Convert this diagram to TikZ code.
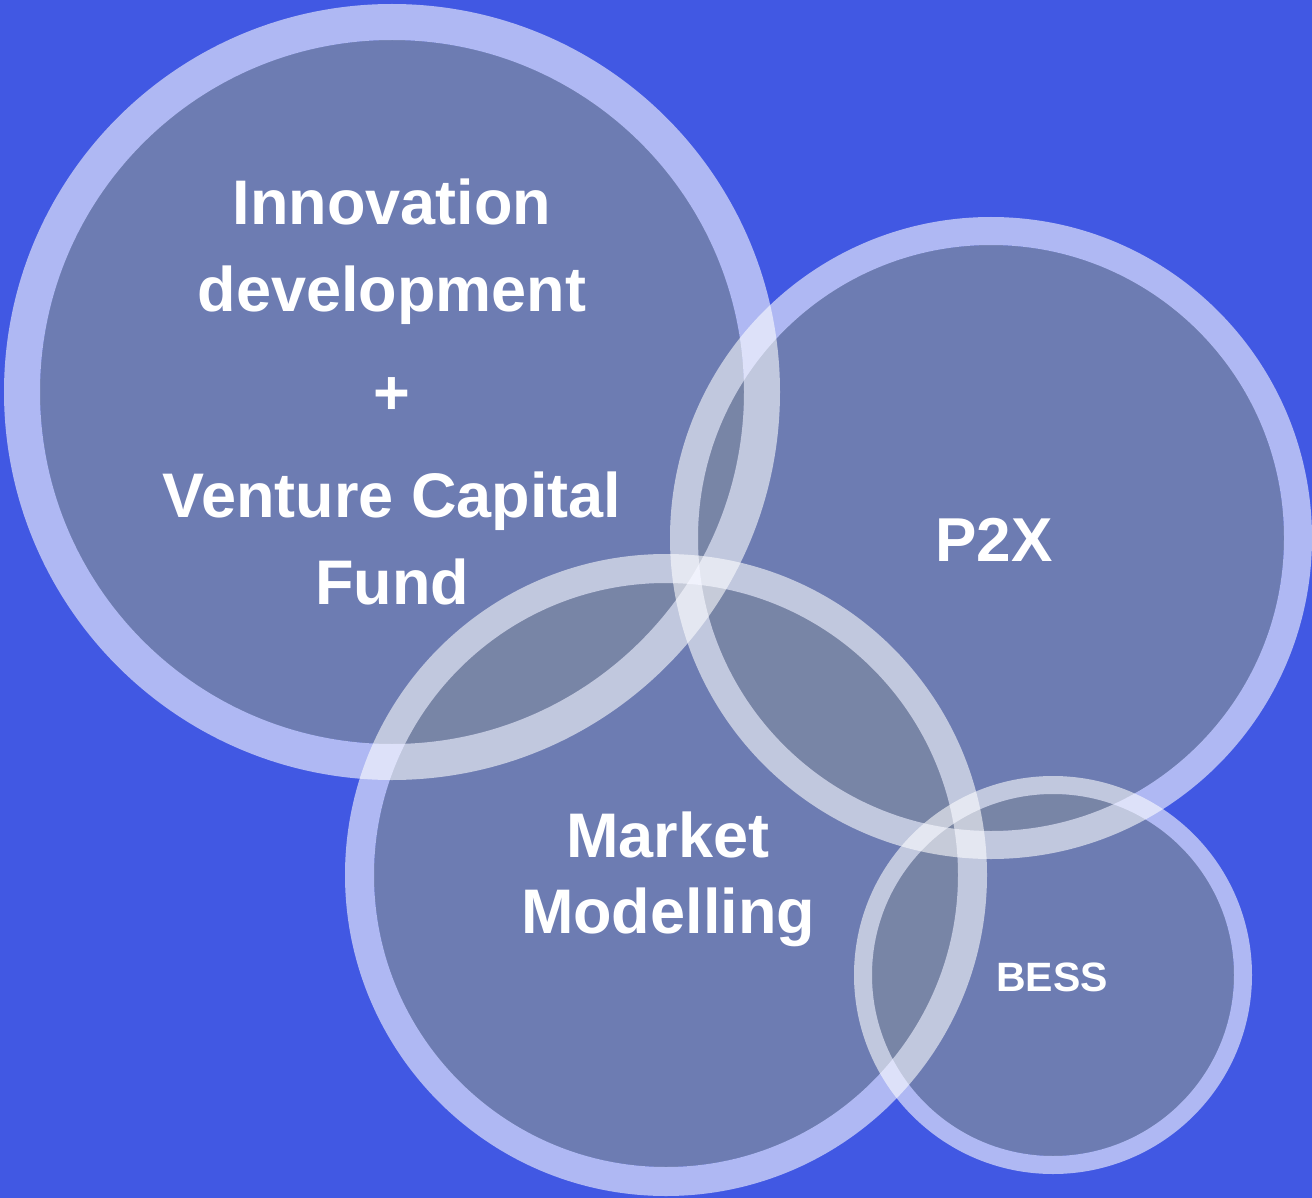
\documentclass[tikz,border=0pt]{standalone}
\usepackage{fontspec}
\setmainfont{Liberation Sans}
\definecolor{bgblue}{RGB}{65,88,227}
\definecolor{discgrey}{RGB}{125,137,162}
\tikzset{
  discfill/.style={circle, inner sep=0pt, fill=discgrey, fill opacity=0.75},
  ringline/.style={circle, inner sep=0pt, draw=white, draw opacity=0.58},
  circtext/.style={inner sep=0pt, align=center, text=white, font=\bfseries}
}

\begin{document}
\begin{tikzpicture}[x=1pt, y=-1pt]
    \useasboundingbox (0,0) rectangle (1312,1198);
    % 背景
    \fill[bgblue] (0,0) rectangle (1312,1198);

    % 円の中身
    \node[discfill, minimum size=704pt] (innovdisc) at (392, 392) {};
    \node[discfill, minimum size=586pt] (ptxdisc) at (991, 538) {};
    \node[discfill, minimum size=584pt] (marketdisc) at (666, 875) {};
    \node[discfill, minimum size=362pt] (bessdisc) at (1053, 975) {};

    % 円の縁
    \node[ringline, line width=36pt, minimum size=740pt] (innov) at (392, 392) {};
    \node[ringline, line width=28pt, minimum size=614pt] (ptx) at (991, 538) {};
    \node[ringline, line width=29pt, minimum size=613pt] (market) at (666, 875) {};
    \node[ringline, line width=18pt, minimum size=380pt] (bess) at (1053, 975) {};

    % テキスト
    \node[circtext, font=\bfseries\fontsize{63}{87}\selectfont] (innovtext) at (392, 392)
      {Innovation\\development\\[16pt]+\\[16pt]Venture Capital\\Fund};
    \node[circtext, font=\bfseries\fontsize{62}{76}\selectfont] (ptxtext) at (994, 540) {P2X};
    \node[circtext, font=\bfseries\fontsize{63}{76}\selectfont] (markettext) at (668, 879)
      {Market\\Modelling};
    \node[circtext, font=\bfseries\fontsize{41}{50}\selectfont] (besstext) at (1052, 977) {BESS};
  \end{tikzpicture}
\end{document}
